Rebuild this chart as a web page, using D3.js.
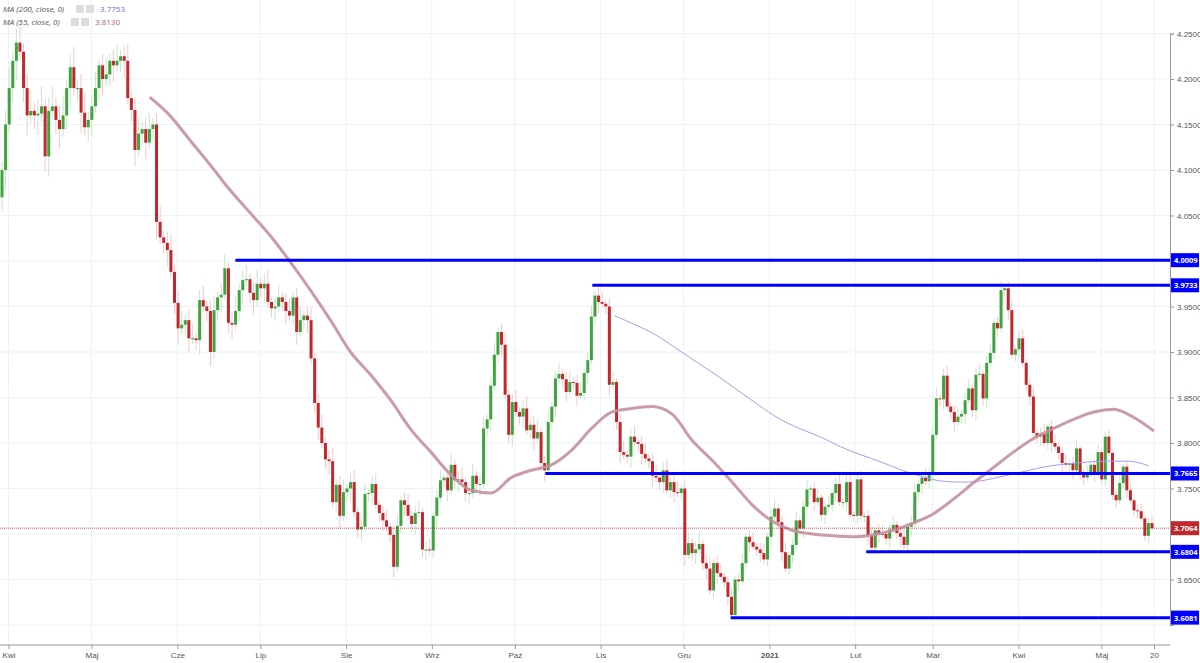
<!DOCTYPE html>
<html>
<head>
<meta charset="utf-8">
<script src="https://cdn.jsdelivr.net/npm/d3@7"></script>
<style>
  body { margin: 0; background: #fff; font-family: "Open Sans", "DejaVu Sans", sans-serif; }
  .tick text { fill: #555; font-size: 8px; }
</style>
</head>
<body>
<svg id="chart" width="1200" height="663"></svg>
<script>
// daily closes, 30 Mar 2020 .. 20 May 2021 (EUR/PLN-like)
var closes = [
  4.10,4.15,4.19,4.22,4.24,4.23,4.19,4.16,4.165,4.16,4.162,4.17,4.115,4.165,4.17,4.155,4.145,4.16,4.19,4.213,4.19,4.19,4.163,4.147,
  4.155,4.17,4.19,4.215,4.20,4.205,4.22,4.215,4.22,4.225,4.22,4.179,4.166,4.122,4.14,4.145,4.13,4.145,4.15,
  4.043,4.026,4.02,4.012,3.988,3.954,3.926,3.93,3.935,3.915,3.915,3.913,3.957,3.95,3.945,3.90,3.946,3.96,3.963,3.992,3.932,3.93,3.945,3.968,3.979,3.98,
  3.965,3.957,3.975,3.97,3.975,3.955,3.948,3.95,3.96,3.955,3.945,3.94,3.96,3.922,3.935,3.94,3.935,3.893,3.844,3.817,3.80,3.782,3.78,3.735,3.754,3.72,
  3.746,3.75,3.757,3.724,3.705,3.708,3.744,3.745,3.755,3.732,3.723,3.715,3.708,3.699,3.664,3.709,3.737,3.732,3.72,3.711,3.723,3.724,3.683,3.683,3.682,
  3.72,3.74,3.759,3.762,3.748,3.776,3.759,3.76,3.757,3.745,3.745,3.764,3.755,3.755,3.816,3.826,3.863,3.897,3.922,3.908,3.853,3.809,3.845,3.834,3.829,
  3.838,3.814,3.82,3.805,3.812,3.778,3.77,3.823,3.84,3.871,3.876,3.87,3.856,3.867,3.866,3.852,3.855,3.877,3.891,3.939,3.962,3.955,3.953,3.95,3.864,
  3.867,3.823,3.79,3.787,3.785,3.807,3.801,3.799,3.788,3.783,3.78,3.764,3.762,3.757,3.77,3.748,3.757,3.746,3.745,3.75,3.677,3.69,3.679,3.683,3.689,
  3.668,3.662,3.638,3.668,3.657,3.653,3.647,3.631,3.611,3.65,3.648,3.668,3.697,3.691,3.686,3.683,3.679,3.672,3.697,3.719,3.728,3.713,3.68,3.662,3.677,
  3.688,3.715,3.706,3.73,3.749,3.75,3.735,3.74,3.721,3.73,3.732,3.745,3.755,3.735,3.735,3.757,3.721,3.72,3.76,3.72,3.72,3.698,3.685,3.704,3.70,3.70,
  3.695,3.705,3.71,3.701,3.697,3.688,3.708,3.712,3.746,3.755,3.762,3.758,3.768,3.809,3.849,3.848,3.874,3.84,3.834,3.823,3.829,3.832,3.847,3.86,3.836,
  3.875,3.876,3.849,3.888,3.899,3.932,3.926,3.968,3.97,3.946,3.897,3.903,3.915,3.888,3.864,3.851,3.811,3.807,3.81,3.80,3.818,3.80,3.796,3.789,3.778,
  3.776,3.778,3.77,3.794,3.765,3.762,3.768,3.776,3.765,3.79,3.76,3.807,3.789,3.743,3.737,3.756,3.774,3.748,3.737,3.726,3.725,3.717,3.698,3.712,3.7064
];
var firstOpen = 4.07;
// approximate wick length per block of 25 candles
var wickSizes = [0.022,0.018,0.016,0.014,0.012,0.013,0.012,0.012,0.010,0.010,0.011,0.010,0.008];

// MA samples, evenly spaced between the two dates
var ma55 = [4.180,4.160,4.133,4.106,4.078,4.053,4.028,3.999,3.968,3.935,3.900,3.875,3.847,3.815,3.790,3.765,3.748,3.745,3.762,3.770,
  3.776,3.792,3.816,3.834,3.838,3.840,3.832,3.803,3.781,3.757,3.732,3.714,3.704,3.700,3.698,3.697,3.699,3.704,3.712,3.722,
  3.738,3.756,3.773,3.790,3.805,3.816,3.826,3.834,3.837,3.828,3.813];
var ma55Range = ["2020-05-22", "2021-05-20"];
var ma200 = [3.940,3.930,3.919,3.904,3.889,3.874,3.858,3.842,3.827,3.816,3.807,3.796,3.787,3.779,3.770,3.763,3.758,3.757,3.759,3.764,
  3.769,3.774,3.777,3.779,3.780,3.780,3.775];
var ma200Range = ["2020-11-06", "2021-05-18"];

var levels = [4.0009, 3.9733, 3.7665, 3.6804, 3.6081];
var levelStarts = ["2020-06-22", "2020-10-29", "2020-10-12", "2021-02-05", "2020-12-18"];
var lastPrice = 3.7064;

var monthTicks = ["2020-04-01","2020-05-01","2020-06-01","2020-07-01","2020-08-01","2020-09-01","2020-10-01","2020-11-01",
  "2020-12-01","2021-01-01","2021-02-01","2021-03-01","2021-04-01","2021-05-01","2021-05-20"];
var monthLabels = ["Kwi","Maj","Cze","Lip","Sie","Wrz","Paź","Lis","Gru","2021","Lut","Mar","Kwi","Maj","20"];
var yTicks = d3.range(3.60, 4.2501, 0.05);

var svg = d3.select("#chart");
var plotRight = 1170, plotBottom = 645;
var parse = d3.timeParse("%Y-%m-%d");

var y = d3.scaleLinear().domain([3.6, 4.25]).range([625, 33.5]);
var xt = d3.scaleTime().domain([parse("2020-03-30"), parse("2021-05-20")]).range([3, 1154]);
var xi = d3.scaleLinear().domain([0, closes.length - 1]).range([2, 1152]);

// grid
svg.append("g").selectAll("line").data(yTicks).join("line")
  .attr("x1", 0).attr("x2", plotRight).attr("y1", d => y(d)).attr("y2", d => y(d))
  .attr("stroke", "#edf2f7");
svg.append("g").selectAll("line").data(monthTicks).join("line")
  .attr("x1", d => xt(parse(d))).attr("x2", d => xt(parse(d))).attr("y1", 0).attr("y2", plotBottom)
  .attr("stroke", "#edf2f7");

// candles
var candles = closes.map(function(c, i) {
  var o = i == 0 ? firstOpen : closes[i - 1];
  var w = wickSizes[Math.floor(i / 25)];
  return {i: i, o: o, c: c, h: Math.max(o, c) + w * (0.4 + (i % 3) * 0.3), l: Math.min(o, c) - w * (0.4 + ((i + 1) % 3) * 0.3)};
});
var g = svg.append("g");
g.selectAll(".wick").data(candles).join("line")
  .attr("x1", d => xi(d.i)).attr("x2", d => xi(d.i))
  .attr("y1", d => y(d.h)).attr("y2", d => y(d.l))
  .attr("stroke", d => d.c >= d.o ? "#c8e6c9" : "#f8c6c8").attr("stroke-width", 1);
g.selectAll(".body").data(candles).join("rect")
  .attr("x", d => xi(d.i) - 1.5).attr("width", 3)
  .attr("y", d => y(Math.max(d.o, d.c)))
  .attr("height", d => Math.max(1, Math.abs(y(d.o) - y(d.c))))
  .attr("fill", d => d.c >= d.o ? "#3fa33f" : "#c1272d");

// moving averages
function maLine(vals, range) {
  var s = d3.scaleLinear().domain([0, vals.length - 1]).range([xt(parse(range[0])), xt(parse(range[1]))]);
  return d3.line().x((d, k) => s(k)).y(d => y(d)).curve(d3.curveMonotoneX)(vals);
}
svg.append("path").attr("d", maLine(ma200, ma200Range)).attr("fill", "none")
  .attr("stroke", "#a99af5").attr("stroke-width", 1);
svg.append("path").attr("d", maLine(ma55, ma55Range)).attr("fill", "none")
  .attr("stroke", "#c4909f").attr("stroke-width", 3).attr("opacity", 0.9);

// last price
svg.append("line").attr("x1", 0).attr("x2", plotRight).attr("y1", y(lastPrice)).attr("y2", y(lastPrice))
  .attr("stroke", "#c1272d").attr("stroke-width", 0.8).attr("stroke-dasharray", "1,1");

// support / resistance
svg.append("g").selectAll("line").data(levels).join("line")
  .attr("x1", (d, k) => xt(parse(levelStarts[k]))).attr("x2", plotRight)
  .attr("y1", d => y(d)).attr("y2", d => y(d))
  .attr("stroke", "#0000ff").attr("stroke-width", 3);

// axes
var labelled = levels.concat([lastPrice]);
var yAxis = d3.axisRight(y).tickValues(yTicks).tickFormat(d3.format(".4f")).tickSize(4);
var ya = svg.append("g").attr("transform", "translate(" + plotRight + ",0)").call(yAxis);
ya.select(".domain").attr("stroke", "#999");
ya.selectAll(".tick line").attr("stroke", "#999");
ya.selectAll(".tick text").attr("x", 7).attr("font-size", 7.5)
  .attr("display", d => labelled.some(v => Math.abs(y(v) - y(d)) < 9) ? "none" : null);

var xAxis = d3.axisBottom(xt).tickValues(monthTicks.map(parse)).tickFormat((d, k) => monthLabels[k]).tickSize(4);
var xa = svg.append("g").attr("transform", "translate(0," + plotBottom + ")").call(xAxis);
xa.select(".domain").attr("stroke", "#999").attr("d", "M0,0H" + plotRight);
xa.selectAll(".tick line").attr("stroke", "#999");
xa.selectAll(".tick text").attr("font-weight", (d, k) => monthLabels[k] == "2021" ? "bold" : null);

// price labels
function priceLabel(v, color) {
  var lg = svg.append("g").attr("transform", "translate(" + plotRight + "," + y(v) + ")");
  lg.append("rect").attr("x", 1).attr("y", -7).attr("width", 28).attr("height", 14).attr("fill", color);
  lg.append("text").attr("x", 4).attr("y", 3).attr("fill", "#fff").attr("font-size", 7.5)
    .attr("font-weight", "bold").text(v.toFixed(4));
}
levels.forEach(v => priceLabel(v, "#0000ff"));
priceLabel(lastPrice, "#c1272d");

// legend
var legend = [["MA (200, close, 0)", "3.7753", "#7a5cf5"], ["MA (55, close, 0)", "3.8130", "#b0607a"]];
legend.forEach(function(l, k) {
  var yy = 12 + k * 13;
  svg.append("text").attr("x", 3).attr("y", yy).attr("font-size", 8).attr("font-style", "italic")
    .attr("fill", "#555").text(l[0]);
  var bx = k == 0 ? 76 : 71;
  svg.append("rect").attr("x", bx).attr("y", yy - 7).attr("width", 8).attr("height", 8).attr("fill", "#ddd");
  svg.append("rect").attr("x", bx + 10).attr("y", yy - 7).attr("width", 8).attr("height", 8).attr("fill", "#ddd");
  svg.append("text").attr("x", bx + 24).attr("y", yy).attr("font-size", 8).attr("fill", l[2]).text(l[1]);
});
</script>
</body>
</html>
